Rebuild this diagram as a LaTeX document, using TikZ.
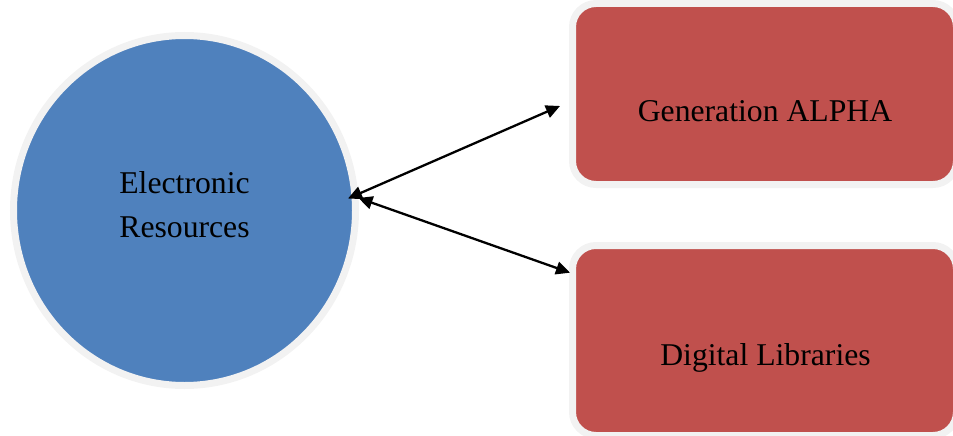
\documentclass[tikz,border=0pt]{standalone}
\usepackage{fontspec}
\setmainfont{Liberation Serif}
\usetikzlibrary{shapes.geometric,arrows.meta,calc}
\definecolor{ccblue}{HTML}{4F81BD}
\definecolor{ccred}{HTML}{C0504D}
\definecolor{ccgray}{HTML}{F2F2F2}
\begin{document}
\begin{tikzpicture}[x=1pt,y=-1pt,
  bigtext/.style={font=\fontsize{31.7}{44}\selectfont, inner sep=0pt, text=black},
  circ/.style={ellipse, draw=ccgray, fill=ccblue, line width=7pt, inner sep=0pt, outer sep=0pt,
    minimum width=342pt, minimum height=350pt},
  rbox/.style={rectangle, rounded corners=23.5pt, draw=ccgray, fill=ccred, line width=7pt,
    inner sep=0pt, outer sep=0pt, minimum width=384pt},
  arr/.style={line width=2.3pt, black, {Triangle[length=14pt,width=13pt]}-{Triangle[length=14pt,width=13pt]}}
]
\useasboundingbox (0,0) rectangle (953,436);
\clip (0,0) rectangle (953,436);
\node[circ] (er) at (184.5,210.5) {};
\node[bigtext, align=center] (ert) at (184.5,204.2) {Electronic\\Resources};
\node[rbox, minimum height=181pt] (g1) at (764.5,94) {};
\node[bigtext, anchor=base] (g1t) at (765,121.7) {Generation ALPHA};
\node[rbox, minimum height=190pt] (d1) at (764.5,340.5) {};
\node[bigtext, anchor=base] (d1t) at (765.5,365) {Digital Libraries};
\draw[arr] ($(er)+(163.5,-12)$) -- ($(g1)+(-204.5,12)$);
\draw[arr] ($(er)+(174,-12.5)$) -- ($(d1)+(-194.5,-67.8)$);
\end{tikzpicture}
\end{document}
